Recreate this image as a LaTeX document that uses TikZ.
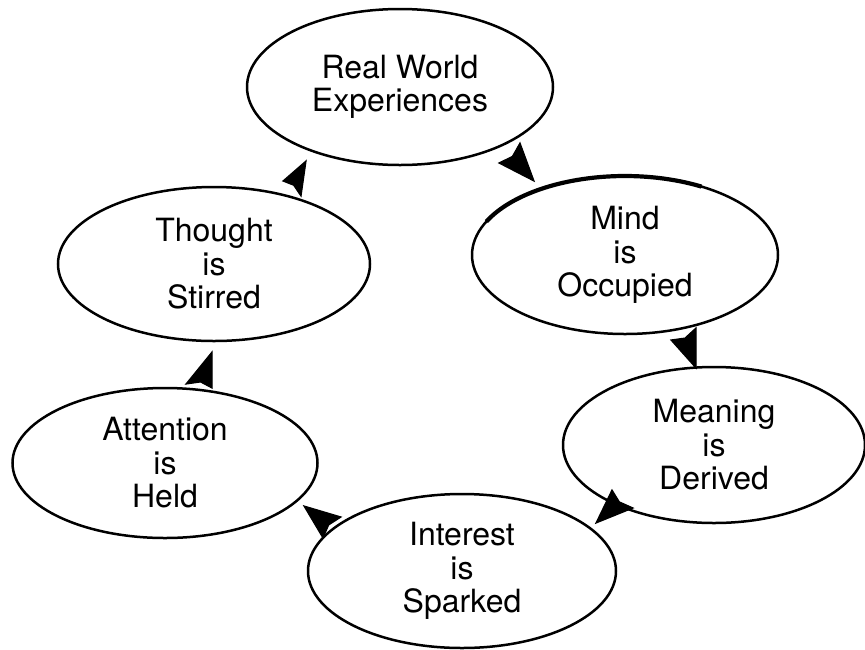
\documentclass[tikz,border=0pt]{standalone}
\usepackage{fontspec}
\setmainfont{TeX Gyre Heros}
\usetikzlibrary{shapes.geometric,calc}
\tikzset{
  bubble/.style={ellipse, draw=black, line width=2.5pt, inner sep=0pt, align=center,
    font=\fontsize{32}{33.5}\selectfont},
  headfill/.style={fill=black, draw=black, line width=1.2pt, line join=miter}
}
\newcommand\arrowheadat[3]{\fill[headfill] (#1) -- (#2) -- ($(#2)!0.5!(#3)!0.12!(#1)$) -- (#3) -- cycle;}
\begin{document}
\begin{tikzpicture}[x=1pt,y=-1pt]
\useasboundingbox (0,0) rectangle (865,649);
\node[bubble, minimum width=306, minimum height=156] (rw) at (400,87) {Real World\\Experiences};
\node[bubble, minimum width=306, minimum height=158] (mind) at (625,255) {Mind\\is\\Occupied};
\node[bubble, minimum width=302, minimum height=156] (mean) at (714,445) {Meaning\\is\\Derived};
\node[bubble, minimum width=308, minimum height=154] (int) at (462,571) {Interest\\is\\Sparked};
\node[bubble, minimum width=305, minimum height=150] (att) at (165,463) {Attention\\is\\Held};
\node[bubble, minimum width=312, minimum height=154] (tho) at (214,264) {Thought\\is\\Stirred};
% thicker top rim of "Mind is Occupied"
\draw[line width=4.2pt] ([shift={(205:153 and 79)}]mind.center) arc[start angle=205, end angle=300, x radius=153, y radius=79];
% arrowheads (rw -> mind -> mean -> int -> att -> tho -> rw)
\coordinate (h1t) at (534,181); \coordinate (h1a) at (499,163); \coordinate (h1b) at (520,143);
\coordinate (h2t) at (696,368); \coordinate (h2a) at (671,340); \coordinate (h2b) at (696,328);
\coordinate (h3t) at (596,523); \coordinate (h3a) at (612,490); \coordinate (h3b) at (633,508);
\coordinate (h4t) at (304,506); \coordinate (h4a) at (341,517); \coordinate (h4b) at (323,538);
\coordinate (h5t) at (212,352); \coordinate (h5a) at (186,384); \coordinate (h5b) at (212,388);
\coordinate (h6t) at (306,161); \coordinate (h6a) at (283,181); \coordinate (h6b) at (301,196);
\arrowheadat{h1t}{h1a}{h1b}
\arrowheadat{h2t}{h2a}{h2b}
\arrowheadat{h3t}{h3a}{h3b}
\arrowheadat{h4t}{h4a}{h4b}
\arrowheadat{h5t}{h5a}{h5b}
\arrowheadat{h6t}{h6a}{h6b}
\end{tikzpicture}
\end{document}
